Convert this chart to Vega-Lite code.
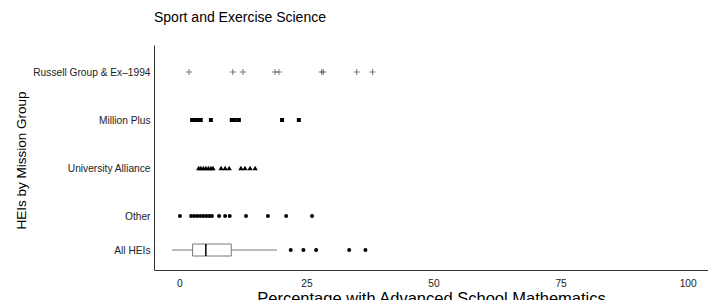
{
  "$schema": "https://vega.github.io/schema/vega-lite/v6.json",
  "padding": {"left": 14, "top": 11, "right": 0, "bottom": 0},
  "spacing": 0,
  "config": {
    "view": {"stroke": null},
    "font": "Liberation Sans",
    "axis": {"grid": false, "ticks": false, "domainColor": "#333333", "domainWidth": 1, "labelColor": "#222222", "labelFontSize": 10.2, "titleFontWeight": "normal", "titleColor": "#000000"}
  },
  "datasets": {
    "points": [
      {"group": "Russell Group & Ex\u20131994", "value": 1.9},
      {"group": "Russell Group & Ex\u20131994", "value": 10.5},
      {"group": "Russell Group & Ex\u20131994", "value": 12.5},
      {"group": "Russell Group & Ex\u20131994", "value": 18.8},
      {"group": "Russell Group & Ex\u20131994", "value": 19.6},
      {"group": "Russell Group & Ex\u20131994", "value": 28.0},
      {"group": "Russell Group & Ex\u20131994", "value": 28.3},
      {"group": "Russell Group & Ex\u20131994", "value": 34.9},
      {"group": "Russell Group & Ex\u20131994", "value": 38.0},
      {"group": "Million Plus", "value": 2.5},
      {"group": "Million Plus", "value": 3.1},
      {"group": "Million Plus", "value": 3.7},
      {"group": "Million Plus", "value": 4.2},
      {"group": "Million Plus", "value": 6.2},
      {"group": "Million Plus", "value": 10.3},
      {"group": "Million Plus", "value": 10.9},
      {"group": "Million Plus", "value": 11.7},
      {"group": "Million Plus", "value": 20.2},
      {"group": "Million Plus", "value": 23.5},
      {"group": "University Alliance", "value": 3.8},
      {"group": "University Alliance", "value": 4.2},
      {"group": "University Alliance", "value": 4.7},
      {"group": "University Alliance", "value": 5.2},
      {"group": "University Alliance", "value": 5.7},
      {"group": "University Alliance", "value": 6.2},
      {"group": "University Alliance", "value": 6.6},
      {"group": "University Alliance", "value": 8.2},
      {"group": "University Alliance", "value": 9.0},
      {"group": "University Alliance", "value": 9.8},
      {"group": "University Alliance", "value": 12.1},
      {"group": "University Alliance", "value": 12.9},
      {"group": "University Alliance", "value": 13.9},
      {"group": "University Alliance", "value": 14.9},
      {"group": "Other", "value": 0.1},
      {"group": "Other", "value": 2.3},
      {"group": "Other", "value": 2.9},
      {"group": "Other", "value": 3.5},
      {"group": "Other", "value": 4.1},
      {"group": "Other", "value": 4.7},
      {"group": "Other", "value": 5.3},
      {"group": "Other", "value": 5.9},
      {"group": "Other", "value": 6.4},
      {"group": "Other", "value": 7.8},
      {"group": "Other", "value": 9.0},
      {"group": "Other", "value": 9.9},
      {"group": "Other", "value": 13.1},
      {"group": "Other", "value": 17.4},
      {"group": "Other", "value": 21.0},
      {"group": "Other", "value": 26.1}
    ],
    "box": [
      {"group": "All HEIs", "lower": -1.5, "q1": 2.6, "median": 5.2, "q3": 10.2, "upper": 19.2}
    ],
    "outliers": [
      {"group": "All HEIs", "value": 21.9},
      {"group": "All HEIs", "value": 24.4},
      {"group": "All HEIs", "value": 26.9},
      {"group": "All HEIs", "value": 33.4},
      {"group": "All HEIs", "value": 36.6}
    ]
  },
  "resolve": {"scale": {"y": "independent"}},
  "vconcat": [
    {
      "title": {"text": "Sport and Exercise Science", "anchor": "start", "frame": "group", "fontSize": 14, "fontWeight": "normal", "offset": 20, "color": "#000000"},
      "width": 554,
      "height": 198,
      "data": {"name": "points"},
      "encoding": {
        "x": {"field": "value", "type": "quantitative", "scale": {"domain": [-5, 104], "nice": false, "zero": false}, "axis": null},
        "y": {"field": "group", "type": "nominal", "scale": {"type": "point", "padding": 0.5625, "domain": ["Russell Group & Ex\u20131994", "Million Plus", "University Alliance", "Other"]}, "axis": {"title": "HEIs by Mission Group", "titleFontSize": 13.5, "titleY": 115, "titlePadding": 4, "labelPadding": 4}}
      },
      "layer": [
        {"transform": [{"filter": "datum.group === 'Russell Group & Ex\u20131994'"}], "mark": {"type": "point", "shape": "M-1,0H1M0,-1V1", "size": 36, "filled": false, "stroke": "#444444", "strokeWidth": 0.7, "opacity": 1}},
        {"transform": [{"filter": "datum.group === 'Million Plus'"}], "mark": {"type": "square", "size": 16, "color": "#000000", "opacity": 1}},
        {"transform": [{"filter": "datum.group === 'University Alliance'"}], "mark": {"type": "point", "shape": "triangle-up", "size": 28, "filled": true, "color": "#000000", "opacity": 1}},
        {"transform": [{"filter": "datum.group === 'Other'"}], "mark": {"type": "circle", "size": 16, "color": "#000000", "opacity": 1}}
      ]
    },
    {
      "width": 554,
      "height": 27,
      "encoding": {
        "y": {"field": "group", "type": "nominal", "scale": {"type": "point", "align": 0.26, "domain": ["All HEIs"]}, "axis": {"title": null, "labelPadding": 4}}
      },
      "layer": [
        {"data": {"name": "box"}, "mark": {"type": "rule", "color": "#555555", "strokeWidth": 0.8},
         "encoding": {"x": {"field": "lower", "type": "quantitative", "scale": {"domain": [-5, 104], "nice": false, "zero": false}, "axis": {"title": "Percentage with Advanced School Mathematics", "values": [0, 25, 50, 75, 100], "titleFontSize": 16.5, "labelPadding": 8, "titlePadding": 2}}, "x2": {"field": "q1"}}},
        {"data": {"name": "box"}, "mark": {"type": "rule", "color": "#555555", "strokeWidth": 0.8},
         "encoding": {"x": {"field": "q3", "type": "quantitative"}, "x2": {"field": "upper"}}},
        {"data": {"name": "box"}, "mark": {"type": "bar", "height": 12, "fill": "#ffffff", "stroke": "#555555", "strokeWidth": 0.8},
         "encoding": {"x": {"field": "q1", "type": "quantitative"}, "x2": {"field": "q3"}}},
        {"data": {"name": "box"}, "mark": {"type": "tick", "orient": "vertical", "size": 12, "thickness": 1.5, "color": "#000000", "opacity": 1},
         "encoding": {"x": {"field": "median", "type": "quantitative"}}},
        {"data": {"name": "outliers"}, "mark": {"type": "circle", "size": 16, "color": "#000000", "opacity": 1},
         "encoding": {"x": {"field": "value", "type": "quantitative"}}}
      ]
    }
  ]
}
